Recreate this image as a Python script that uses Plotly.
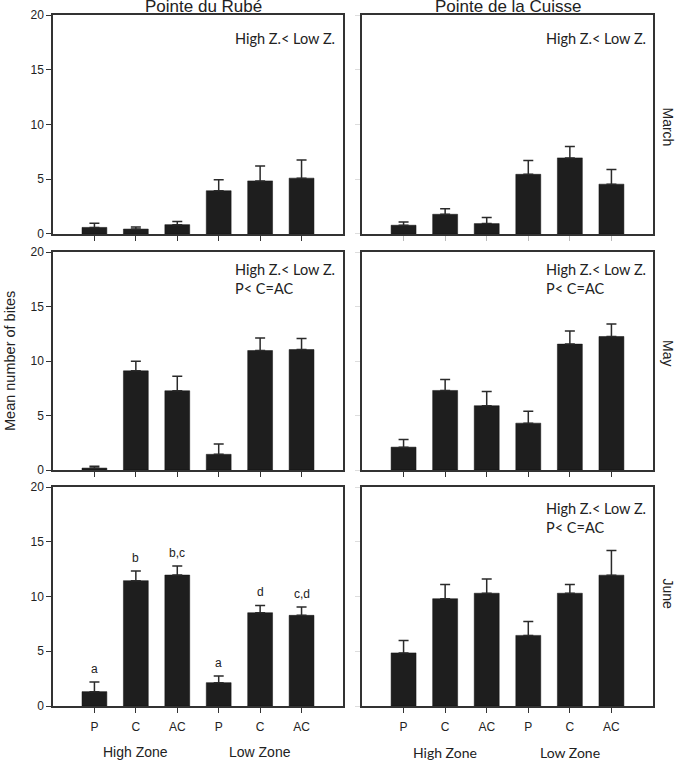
import plotly.graph_objects as go

# ---------------- data ----------------
categories = ["P", "C", "AC", "P", "C", "AC"]
zones = ["High Zone", "Low Zone"]
sites = ["Pointe du Rubé", "Pointe de la Cuisse"]
months = ["March", "May", "June"]

rube_march = [0.6, 0.45, 0.85, 3.95, 4.85, 5.1]
rube_march_err = [0.37, 0.18, 0.28, 1.0, 1.35, 1.65]
cuisse_march = [0.8, 1.8, 0.95, 5.45, 6.95, 4.55]
cuisse_march_err = [0.3, 0.5, 0.55, 1.25, 1.05, 1.35]

rube_may = [0.18, 9.1, 7.27, 1.44, 10.96, 11.05]
rube_may_err = [0.16, 0.88, 1.34, 0.94, 1.16, 1.01]
cuisse_may = [2.1, 7.3, 5.9, 4.3, 11.55, 12.25]
cuisse_may_err = [0.7, 1.0, 1.3, 1.1, 1.2, 1.15]

rube_june = [1.31, 11.45, 11.96, 2.13, 8.52, 8.28]
rube_june_err = [0.88, 0.88, 0.83, 0.61, 0.67, 0.76]
cuisse_june = [4.85, 9.8, 10.3, 6.45, 10.3, 11.95]
cuisse_june_err = [1.13, 1.3, 1.3, 1.26, 0.8, 2.25]

rube_june_letters = ["a", "b", "b,c", "a", "d", "c,d"]

note_zone = "High Z.&lt; Low Z."
note_both = "High Z.&lt; Low Z.<br>P&lt; C=AC"
panel_notes = [[note_zone, note_zone], [note_both, note_both], ["", note_both]]

panel_values = [[rube_march, cuisse_march], [rube_may, cuisse_may], [rube_june, cuisse_june]]
panel_errors = [[rube_march_err, cuisse_march_err], [rube_may_err, cuisse_may_err],
                [rube_june_err, cuisse_june_err]]

# ---------------- layout geometry ----------------
W, H = 675, 760
ML, MR, MT, MB = 53, 22, 15, 54
xdomains = [[0.0, 0.4833], [0.515, 1.0]]
ydomains = [[0.6831, 1.0], [0.3415, 0.657], [0.0, 0.3169]]

AX = "#333333"
BAR = "#1e1e1e"
FONT = "Liberation Sans, Arial, sans-serif"
NOTEFONT = "Lato, Liberation Sans, sans-serif"

fig = go.Figure()
xs = list(range(len(categories)))
annotations = []

for r in range(3):
    for c in range(2):
        idx = r * 2 + c + 1
        sx = "" if idx == 1 else str(idx)
        fig.add_trace(go.Bar(
            x=xs, y=panel_values[r][c], width=0.6,
            marker=dict(color=BAR, line=dict(color="#111111", width=0.5)),
            error_y=dict(type="data", array=panel_errors[r][c],
                         arrayminus=[0] * len(xs), symmetric=False,
                         color="#2a2a2a", thickness=1.5, width=5),
            xaxis="x" + sx, yaxis="y" + sx, showlegend=False,
            hoverinfo="skip"))
        bottom = (r == 2)
        xtickcolor = AX if not (r == 0 and c == 1) else "#bbbbbb"
        fig.update_layout(**{
            "xaxis" + sx: dict(
                domain=xdomains[c], anchor="y" + sx, range=[-1, 6],
                tickvals=xs, ticktext=categories if bottom else [""] * 6,
                showticklabels=bottom, ticks="outside", ticklen=5,
                ticklabelstandoff=4,
                tickwidth=1.2, tickcolor=xtickcolor, automargin=False,
                showline=True, linecolor=AX, linewidth=1.5, mirror=True,
                showgrid=False, zeroline=False,
                tickfont=dict(family=FONT, size=12, color="#222222")),
            "yaxis" + sx: dict(
                domain=ydomains[r], anchor="x" + sx, range=[0, 20],
                tickvals=[0, 5, 10, 15, 20], showticklabels=(c == 0),
                ticks="outside", ticklen=5, tickwidth=1.2, automargin=False,
                tickcolor=AX if c == 0 else "#dddddd",
                showline=True, linecolor=AX, linewidth=1.5, mirror=True,
                showgrid=False, zeroline=False,
                tickfont=dict(family=FONT, size=12, color="#222222")),
        })
        note = panel_notes[r][c]
        if note:
            yshift = [-13, -7, -11][r]
            annotations.append(dict(
                text=note, xref="x" + sx + " domain", yref="y" + sx + " domain",
                x=1, y=1, xanchor="right", yanchor="top", align="left",
                xshift=-5 if c == 1 else -6, yshift=yshift, showarrow=False,
                font=dict(family=NOTEFONT, size=14.5, color="#222222")))
        if bottom:
            for zi, zone in enumerate(zones):
                annotations.append(dict(
                    text=zone, xref="x" + sx, yref="y" + sx + " domain",
                    x=1 + 3 * zi, y=0, yanchor="middle", yshift=-46,
                    showarrow=False,
                    font=dict(family=FONT if c == 0 else NOTEFONT, size=14,
                              color="#222222")))
        if r == 2 and c == 0:
            for i, lab in enumerate(rube_june_letters):
                annotations.append(dict(
                    text=lab, xref="x" + sx, yref="y" + sx,
                    x=xs[i], y=panel_values[r][c][i] + panel_errors[r][c][i],
                    yanchor="bottom", yshift=4, showarrow=False,
                    font=dict(family=FONT, size=12, color="#222222")))

# site titles
for c, site in enumerate(sites):
    sx = "" if c == 0 else "2"
    annotations.append(dict(
        text=site, xref="x" + sx + " domain", yref="paper", x=0.5, y=1,
        xanchor="center", yanchor="bottom", xshift=6 if c == 0 else 0,
        yshift=-3, showarrow=False,
        font=dict(family=FONT, size=17, color="#222222")))

# month labels
for r, m in enumerate(months):
    sx = str(r * 2 + 2)
    annotations.append(dict(
        text=m, xref="paper", yref="y" + sx + " domain", x=1, y=0.5,
        xanchor="center", yanchor="middle", xshift=15,
        yshift=[-2, 8, 3][r], textangle=90, showarrow=False,
        font=dict(family=FONT, size=14, color="#222222")))

# y-axis title
annotations.append(dict(
    text="Mean number of bites", xref="paper", yref="paper", x=0,
    y=(706 - 361) / (H - MT - MB), xanchor="center", yanchor="middle",
    xshift=-43, textangle=-90, showarrow=False,
    font=dict(family=FONT, size=14.5, color="#222222")))

fig.update_layout(
    template="none",
    width=W, height=H, margin=dict(l=ML, r=MR, t=MT, b=MB, autoexpand=False),
    paper_bgcolor="white", plot_bgcolor="white",
    annotations=annotations, bargap=0.4)

fig.write_html(
    "out.html",
    config={"displayModeBar": False},
    post_script="document.body.style.margin='0';document.body.style.padding='0';"
                "document.body.style.overflow='hidden';")
